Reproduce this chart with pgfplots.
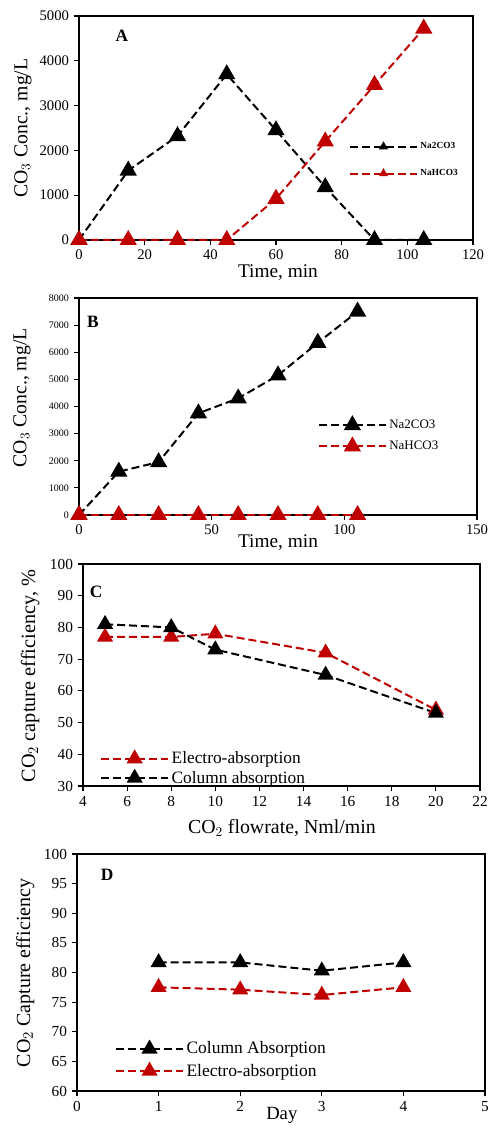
\documentclass[border=0pt]{standalone}
\usepackage{fontspec}
\setmainfont{Liberation Serif}
\usepackage{pgfplots}
\pgfplotsset{compat=1.18}
\definecolor{exred}{RGB}{192,0,0}
\newcommand{\fs}[1]{\fontsize{#1}{#1}\selectfont}
\pgfplotsset{
  every axis/.append style={
    scale only axis,
    axis line style={line width=1pt},
    tick align=outside,
    major tick length=4pt,
    tick style={line width=0.8pt,black},
    xtick pos=bottom, ytick pos=left,
    /pgf/number format/assume math mode=true,
    /pgf/number format/1000 sep={},
    legend cell align=left,
    legend image code/.code={\draw[mark repeat=2,mark phase=2,#1] plot coordinates {(0pt,0pt) (25pt,0pt) (50pt,0pt)};},
  },
  blk/.style={black, line width=1.5pt, dash pattern=on 6pt off 3pt, mark=triangle*, mark options={solid, fill=black}},
  rd/.style={exred, line width=1.5pt, dash pattern=on 6pt off 3pt, mark=triangle*, mark options={solid, fill=exred}},
}
\begin{document}
\begin{tikzpicture}
\path[use as bounding box] (0,0) rectangle (367.5pt,846pt);
% Panel A
\begin{axis}[at={(59.25pt,666pt)}, anchor=south west,
  width=295.5pt, height=168pt,
  xmin=0, xmax=120, ymin=0, ymax=5000,
  xtick={0,20,...,120}, ytick={0,1000,...,5000},
  ticklabel style={font=\fs{11}},
  xlabel={Time, min}, ylabel={CO$_3$ Conc., mg/L},
  xlabel style={font=\fs{14.5}, at={(axis description cs:0.505,-0.147)}, anchor=center},
  ylabel style={font=\fs{14.8}, at={(axis description cs:-0.142,0.5)}, anchor=center},
  clip=false,
  legend image post style={mark size=2.5pt},
  legend style={draw=none, fill=none, font=\fs{7}\bfseries, at={(axis description cs:0.685,0.448)}, anchor=north west, row sep=10pt, inner sep=0pt},
]
\addplot[blk, mark size=6pt] coordinates {(0,0) (15,1550) (30,2320) (45,3700) (60,2450) (75,1180) (90,0) (105,0)};
\addlegendentry{Na2CO3}
\addplot[rd, mark size=6pt] coordinates {(0,0) (15,0) (30,0) (45,0) (60,920) (75,2200) (90,3460) (105,4720)};
\addlegendentry{NaHCO3}
\node[font=\fs{13}\bfseries] at (axis description cs:0.109,0.91) {A};
\end{axis}
% Panel B
\begin{axis}[at={(59.25pt,459.75pt)}, anchor=south west,
  width=298.5pt, height=162.75pt,
  xmin=0, xmax=150, ymin=0, ymax=8000,
  xtick={0,50,100,150}, ytick={0,1000,...,8000},
  xticklabel style={font=\fs{11}},
  yticklabel style={font=\fs{7.5}},
  xlabel={Time, min}, ylabel={CO$_3$ Conc., mg/L},
  xlabel style={font=\fs{14.5}, at={(axis description cs:0.5,-0.129)}, anchor=center},
  ylabel style={font=\fs{14.8}, at={(axis description cs:-0.143,0.54)}, anchor=center},
  clip=false,
  legend style={draw=none, fill=none, font=\fs{9.7}, at={(axis description cs:0.60,0.452)}, anchor=north west, row sep=4pt, inner sep=0pt},
]
\addplot[blk, mark size=6pt] coordinates {(0,0) (15,1600) (30,1950) (45,3750) (60,4300) (75,5150) (90,6350) (105,7500)};
\addlegendentry{Na2CO3}
\addplot[rd, mark size=6pt] coordinates {(0,0) (15,0) (30,0) (45,0) (60,0) (75,0) (90,0) (105,0)};
\addlegendentry{NaHCO3}
\node[font=\fs{13}\bfseries] at (axis description cs:0.035,0.889) {B};
\end{axis}
% Panel C
\begin{axis}[at={(62.25pt,256.5pt)}, anchor=south west,
  width=297.75pt, height=166.5pt,
  xmin=4, xmax=22, ymin=30, ymax=100,
  xtick={4,6,...,22}, ytick={30,40,...,100},
  ticklabel style={font=\fs{11.5}},
  xlabel={CO$_2$ flowrate, Nml/min}, ylabel={CO$_2$ capture efficiency, \%},
  xlabel style={font=\fs{14.9}, at={(axis description cs:0.501,-0.189)}, anchor=center},
  ylabel style={font=\fs{15.2}, at={(axis description cs:-0.133,0.495)}, anchor=center},
  clip=false,
  legend style={draw=none, fill=none, font=\fs{13}, at={(axis description cs:0.043,0.168)}, anchor=north west, row sep=0pt, inner sep=0pt},
]
\addplot[rd, mark size=5.5pt] coordinates {(5,77) (8,77) (10,78) (15,72) (20,54)};
\addlegendentry{Electro-absorption}
\addplot[blk, mark size=5.5pt] coordinates {(5,81) (8,80) (10,73) (15,65) (20,53)};
\addlegendentry{Column absorption}
\node[font=\fs{13}\bfseries] at (axis description cs:0.033,0.874) {C};
\end{axis}
% Panel D
\begin{axis}[at={(57.75pt,27.75pt)}, anchor=south west,
  width=306pt, height=177.75pt,
  xmin=0, xmax=5, ymin=60, ymax=100,
  xtick={0,1,...,5}, ytick={60,65,...,100},
  ticklabel style={font=\fs{11.5}},
  xlabel={Day}, ylabel={CO$_2$ Capture efficiency},
  xlabel style={font=\fs{14}, at={(axis description cs:0.502,-0.103)}, anchor=center},
  ylabel style={font=\fs{15}, at={(axis description cs:-0.127,0.498)}, anchor=center},
  clip=false,
  legend style={draw=none, fill=none, font=\fs{13.1}, at={(axis description cs:0.093,0.22)}, anchor=north west, row sep=2pt, inner sep=0pt},
]
\addplot[blk, mark size=5.5pt] coordinates {(1,81.7) (2,81.7) (3,80.3) (4,81.7)};
\addlegendentry{Column Absorption}
\addplot[rd, mark size=5.5pt] coordinates {(1,77.5) (2,77.1) (3,76.2) (4,77.5)};
\addlegendentry{Electro-absorption}
\node[font=\fs{13}\bfseries] at (axis description cs:0.074,0.911) {D};
\end{axis}
\end{tikzpicture}
\end{document}
